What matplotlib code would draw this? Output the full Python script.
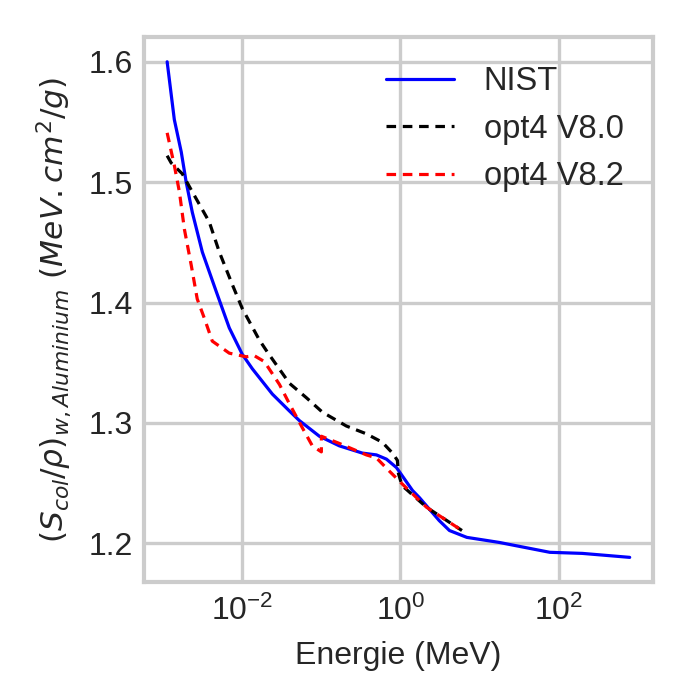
#!/usr/bin/env python3
import matplotlib
matplotlib.use("Agg")
import matplotlib.pyplot as plt

# energies in MeV, stopping power ratio water/aluminium
nist_e = [0.00112, 0.00138, 0.00169, 0.00195, 0.00233, 0.00312, 0.00469,
          0.00684, 0.0100, 0.0134, 0.024, 0.0394, 0.0527, 0.0944, 0.169, 0.33,
          0.497, 0.665, 0.89, 1.42, 1.74, 3.09, 4.17, 6.92, 17.8, 77.6, 200, 794]
nist_s = [1.600, 1.552, 1.525, 1.500, 1.475, 1.442, 1.409,
          1.379, 1.357, 1.345, 1.324, 1.310, 1.302, 1.289, 1.281, 1.275,
          1.2735, 1.270, 1.263, 1.244, 1.238, 1.219, 1.2107, 1.205, 1.2008,
          1.1926, 1.1917, 1.1884]

v80_e = [0.00112, 0.00126, 0.00174, 0.00233, 0.00382, 0.00512, 0.00747, 0.0100,
         0.0164, 0.0207, 0.0394, 0.0646, 0.103, 0.207, 0.371, 0.59, 0.794,
         0.915, 0.944, 1.05, 2.14, 6.0]
v80_s = [1.522, 1.516, 1.507, 1.492, 1.467, 1.442, 1.415, 1.395,
         1.369, 1.359, 1.333, 1.321, 1.309, 1.2975, 1.291, 1.284, 1.275,
         1.269, 1.258, 1.248, 1.230, 1.2107]

v82_e = [0.00112, 0.00138, 0.0016, 0.00185, 0.00226, 0.00269, 0.00331, 0.00417,
         0.00684, 0.0112, 0.0141, 0.019, 0.0295, 0.0394, 0.0575, 0.0769, 0.100,
         0.100, 0.169, 0.371, 0.497, 0.725, 1.03, 2.14, 6.0]
v82_s = [1.541, 1.514, 1.492, 1.461, 1.431, 1.403, 1.387, 1.368,
         1.358, 1.355, 1.356, 1.351, 1.332, 1.316, 1.296, 1.281, 1.276,
         1.289, 1.283, 1.2735, 1.271, 1.260, 1.250, 1.230, 1.2107]

plt.style.use("seaborn-v0_8-whitegrid")
plt.rcParams["font.family"] = ["Liberation Sans", "DejaVu Sans"]

fig = plt.figure(figsize=(6.73, 6.73), dpi=100)
ax = fig.add_axes([0.214, 0.135, 0.756, 0.810])

dash = (0, (3.0, 2.1))
ax.plot(nist_e, nist_s, color="blue", lw=2.3, label="NIST")
ax.plot(v80_e, v80_s, color="black", lw=2.3, ls=dash, label="opt4 V8.0")
ax.plot(v82_e, v82_s, color="red", lw=2.3, ls=dash, label="opt4 V8.2")

ax.set_xscale("log")
ax.set_xticks([1e-2, 1e0, 1e2])
ax.minorticks_off()
ax.set_yticks([1.2, 1.3, 1.4, 1.5, 1.6])
ax.tick_params(axis="both", labelsize=23, colors="#262626")
ax.tick_params(axis="x", pad=10)
ax.tick_params(axis="y", pad=8)
ax.grid(True, color="#cccccc", lw=2.4)
for sp in ax.spines.values():
    sp.set_color("#cccccc")
    sp.set_linewidth(3.0)

ax.set_xlabel("Energie (MeV)", fontsize=23, color="#262626", labelpad=10)
ax.set_ylabel(r"$(S_{col}/\rho)_{w,Aluminium}\ (MeV.cm^2/g)$", fontsize=22.5,
              color="#262626", labelpad=11)
ax.legend(fontsize=23.5, loc="upper right", handlelength=2.1,
          handletextpad=0.9, frameon=False, labelspacing=0.5)

fig.savefig("out.png", dpi=100)
